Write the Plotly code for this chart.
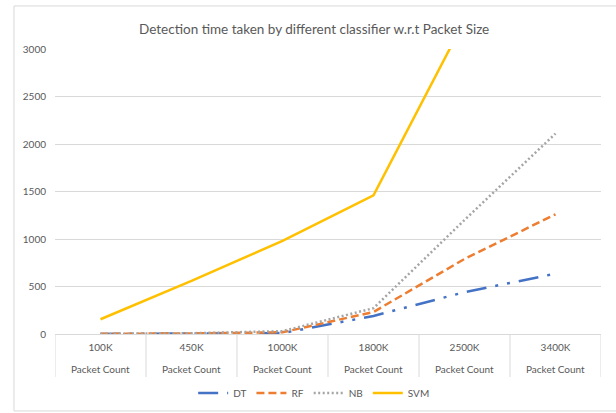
import plotly.graph_objects as go

categories = ["100K", "450K", "1000K", "1800K", "2500K", "3400K"]
sub_label = "Packet Count"
dt = [1, 4, 10, 190, 440, 635]
rf = [2, 6, 18, 232, 790, 1260]
nb = [2, 8, 30, 272, 1200, 2110]
svm = [155, 560, 980, 1460, 3300, 5000]

series = [
    ("DT", dt, "#4472C4", "20px,9px,3px,9px,3px,9px"),
    ("RF", rf, "#ED7D31", "8px,4px"),
    ("NB", nb, "#A5A5A5", "2px,2.5px"),
    ("SVM", svm, "#FFC000", "solid"),
]

FONT = "Lato, 'Open Sans', sans-serif"
GREY = "#595959"
GRID = "#D9D9D9"

fig = go.Figure()
for name, vals, color, dash in series:
    fig.add_trace(go.Scatter(
        x=categories, y=vals, name=name, mode="lines",
        line=dict(color=color, width=2.5, dash=dash),
        cliponaxis=True,
    ))

shapes = []
for i in range(len(categories) + 1):
    shapes.append(dict(type="line", xref="x", yref="paper",
                       x0=i - 0.5, x1=i - 0.5, y0=0, y1=-0.151,
                       line=dict(color=GRID, width=1)))
# chart border
shapes.append(dict(type="rect", xref="paper", yref="paper",
                   x0=-0.0751, x1=1.03, y0=-0.270, y1=1.151,
                   line=dict(color=GRID, width=1)))

annotations = [dict(x=c, xref="x", y=-0.123, yref="paper", text=sub_label,
                    showarrow=False, yanchor="middle",
                    font=dict(family=FONT, size=10, color=GREY))
               for c in categories]

fig.update_layout(
    width=616, height=413,
    margin=dict(l=55, r=15, t=49, b=79),
    paper_bgcolor="white", plot_bgcolor="white",
    title=dict(text="Detection time taken by different classifier w.r.t Packet Size",
               x=0.51, xref="container", xanchor="center",
               y=1 - 29 / 413, yref="container", yanchor="middle",
               font=dict(family=FONT, size=13.5, color=GREY)),
    xaxis=dict(type="category", range=[-0.5, 5.5], showgrid=False,
               showline=True, linecolor=GRID, linewidth=1,
               ticks="", ticklabelstandoff=4,
               tickfont=dict(family=FONT, size=10, color=GREY)),
    yaxis=dict(range=[0, 3000], dtick=500, showgrid=True, gridcolor=GRID,
               gridwidth=1, zeroline=False, showline=False, ticks="",
               ticklabelstandoff=8,
               tickfont=dict(family=FONT, size=10, color=GREY)),
    legend=dict(orientation="h", xref="container", x=0.51, xanchor="center",
                yref="container", y=1 - 393 / 413, yanchor="middle",
                font=dict(family=FONT, size=10, color=GREY),
                itemwidth=30),
    shapes=shapes,
    annotations=annotations,
    showlegend=True,
)

fig.write_html(
    "out.html",
    config={"displayModeBar": False},
    post_script="document.body.style.margin='0px';document.body.style.overflow='hidden';",
)
